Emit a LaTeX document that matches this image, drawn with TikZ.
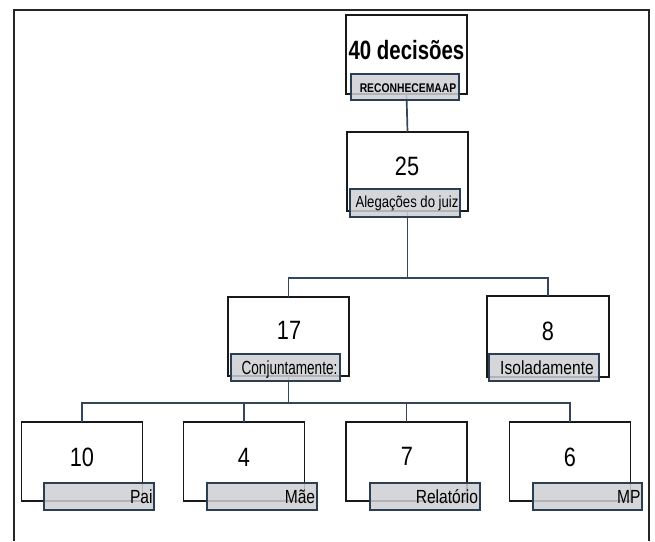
\documentclass[tikz,border=0pt]{standalone}
\usepackage{fontspec}
\usepackage{graphicx}
\setmainfont{Liberation Sans}[FakeStretch=0.82]
\newfontfamily\titlefont{Liberation Sans}[FakeStretch=0.77]
\usetikzlibrary{calc}
\definecolor{tagfill}{RGB}{206,207,211}
\definecolor{tagline}{RGB}{44,62,84}
\definecolor{connc}{RGB}{52,70,92}
\begin{document}
\begin{tikzpicture}[x=1pt,y=-1pt,
  box/.style={draw=black!90,line width=1.6pt,fill=white,minimum width=121pt,minimum height=79pt,inner sep=0pt,outer sep=0pt},
  tag/.style={draw=tagline,line width=1.6pt,fill=tagfill,fill opacity=0.85,minimum width=110pt,minimum height=27pt,inner sep=0pt},
  num/.style={font=\fontsize{26.5}{30}\selectfont,inner sep=0pt},
  lab/.style={font=\fontsize{19}{22}\selectfont,inner sep=0pt},
  conn/.style={draw=connc,line width=1.7pt}]
\useasboundingbox (0,0) rectangle (655,541);
\draw[line width=1.8pt,black!85] (14,541) -- (14,10) -- (649,10) -- (649,541);
% boxes
\node[box] (b1) at (406.5,54.5) {};
\node[box] (b2) at (407.5,171.5) {};
\node[box] (b17) at (288.5,336.5) {};
\node[box,minimum width=122pt,minimum height=81pt] (b8) at (548,336.5) {};
\node[box] (b10) at (82,461.5) {};
\node[box] (b4) at (244,461.5) {};
\node[box] (b7) at (406.5,461.5) {};
\node[box] (b6) at (570,461.5) {};
% connectors
\coordinate (j1) at (407.5,278);
\coordinate (j2) at (288.5,403);
\draw[conn] (b1.south) -- (b2.north);
\draw[conn] (b2.south) -- (j1);
\draw[conn] (j1) -| (b17.north);
\draw[conn] (j1) -| (b8.north);
\draw[conn] (b17.south) -- (j2);
\draw[conn] (j2) -| (b10.north);
\draw[conn] (j2) -| (b4.north);
\draw[conn] (j2) -| (b7.north);
\draw[conn] (j2) -| (b6.north);
% numbers
\node[num,font=\titlefont\fontsize{26.5}{30}\selectfont\bfseries] (n1) at (406.5,50) {40 decisões};
\node[num] (n2) at (407,166) {25};
\node[num] (n17) at (289,330) {17};
\node[num] (n8) at (548,331) {8};
\node[num] (n10) at (82,457) {10};
\node[num] (n4) at (244,457) {4};
\node[num] (n7) at (407,456) {7};
\node[num] (n6) at (570,457) {6};
% tags
\node[tag,minimum width=108pt,minimum height=26pt] (t1) at (405,87) {};
\node[tag,minimum height=28pt] (t2) at (405,203) {};
\node[tag,minimum width=109pt] (t17) at (285.5,367.5) {};
\node[tag] (t8) at (544,367.5) {};
\node[tag] (t10) at (99,496.5) {};
\node[tag] (t4) at (262,496.5) {};
\node[tag] (t7) at (425,496.5) {};
\node[tag,minimum width=109pt] (t6) at (587.5,496.5) {};
% tag texts
\node[inner sep=0pt,anchor=base,font=\fontsize{12.6}{14}\selectfont\bfseries] (l1) at ($(t1.center)+(3,5)$) {RECONHECEMAAP};
\node[inner sep=0pt,anchor=base,font=\fontsize{16}{18}\selectfont] (l2) at ($(t2.center)+(2,4.5)$) {Alegações do juiz};
\node[lab,anchor=base] (l17) at ($(t17.center)+(4,6.5)$) {\scalebox{0.87}[1]{Conjuntamente:}};
\node[lab,anchor=base] (l8) at ($(t8.center)+(3,6.5)$) {Isoladamente};
\node[lab,anchor=base east] (l10) at ($(t10.east)+(-2,6.5)$) {Pai};
\node[lab,anchor=base east] (l4) at ($(t4.east)+(-2.5,6.5)$) {Mãe};
\node[lab,anchor=base east] (l7) at ($(t7.east)+(-2.5,6.5)$) {Relatório};
\node[lab,anchor=base east] (l6) at ($(t6.east)+(-2,6.5)$) {MP};
\end{tikzpicture}
\end{document}
